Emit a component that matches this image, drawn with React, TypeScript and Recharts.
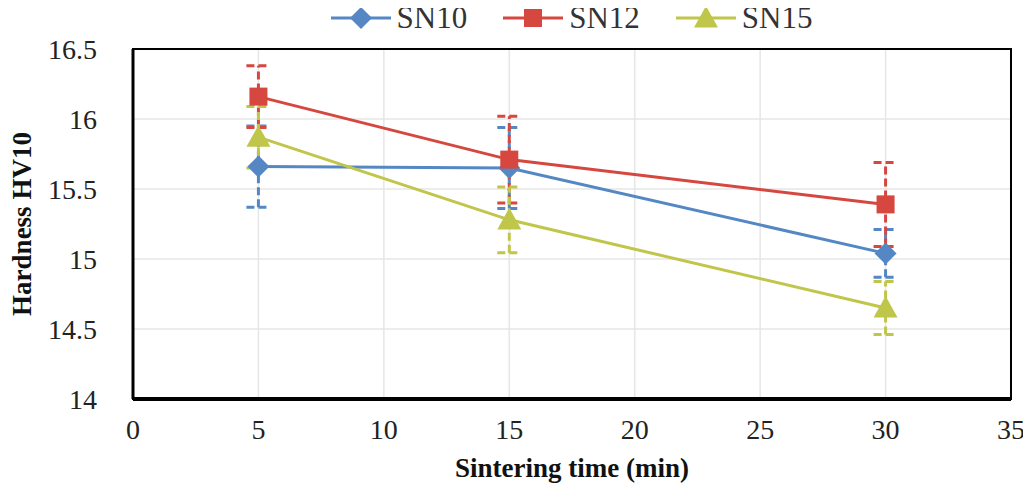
import React from 'react';
import { ComposedChart, Line, XAxis, YAxis, CartesianGrid, ErrorBar, ReferenceArea } from 'recharts';

// sintering time (min)
const times = [5, 15, 30];
const sn10 = [15.66, 15.65, 15.04];
const sn10Err = [0.29, 0.29, 0.17];
const sn12 = [16.16, 15.71, 15.39];
const sn12Err = [0.22, 0.31, 0.3];
const sn15 = [15.87, 15.28, 14.65];
const sn15Err = [0.22, 0.235, 0.19];

const xTicks = [0, 5, 10, 15, 20, 25, 30, 35];
const yTicks = [14, 14.5, 15, 15.5, 16, 16.5];

const BLUE = '#5487c4';
const RED = '#d5473f';
const YELLOW = '#bfc64a';
const FONT = "Times New Roman, Times, Tinos, Nimbus Roman, Liberation Serif, DejaVu Serif, serif";

const data = times.map((t, i) => ({
    t,
    sn10: sn10[i],
    sn10Err: sn10Err[i],
    sn12: sn12[i],
    sn12Err: sn12Err[i],
    sn15: sn15[i],
    sn15Err: sn15Err[i],
}));

const series = [
    { key: 'sn10', name: 'SN10', color: BLUE, shape: 'diamond' },
    { key: 'sn12', name: 'SN12', color: RED, shape: 'square' },
    { key: 'sn15', name: 'SN15', color: YELLOW, shape: 'triangle' },
];

// marker shapes like the excel ones
const Marker = ({ shape, cx, cy, color }: { shape: string; cx: number; cy: number; color: string }) => {
    if (shape === 'diamond') {
        const r = 11;
        return <polygon points={`${cx},${cy - r} ${cx + r},${cy} ${cx},${cy + r} ${cx - r},${cy}`} fill={color} />;
    }
    if (shape === 'square') {
        const r = 9;
        return <rect x={cx - r} y={cy - r} width={r * 2} height={r * 2} fill={color} />;
    }
    const r = 12;
    return <polygon points={`${cx},${cy - r} ${cx + r},${cy + r * 0.8} ${cx - r},${cy + r * 0.8}`} fill={color} />;
};

const makeDot = (shape: string, color: string) => (props: any) => {
    const { cx, cy, index } = props;
    return (
        <g key={`${shape}-${index}`}>
            <Marker shape={shape} cx={cx} cy={cy} color={color} />
        </g>
    );
};

const LegendRow = () => (
    <div
        style={{
            position: 'absolute',
            top: 0,
            left: 0,
            width: 1031,
            display: 'flex',
            justifyContent: 'center',
            paddingLeft: 110,
            boxSizing: 'border-box',
            gap: 34,
            fontFamily: FONT,
            fontSize: 31,
            color: '#333',
            lineHeight: '36px',
        }}
    >
        {series.map((s) => (
            <div key={s.key} style={{ display: 'flex', alignItems: 'center' }}>
                <svg width={64} height={30}>
                    <line x1={2} y1={15} x2={62} y2={15} stroke={s.color} strokeWidth={3} />
                    <Marker shape={s.shape} cx={32} cy={15} color={s.color} />
                </svg>
                <span style={{ marginLeft: 4 }}>{s.name}</span>
            </div>
        ))}
    </div>
);

export default function App() {
    return (
        <div style={{ position: 'relative', width: 1031, height: 497, margin: -8, background: '#fff' }}>
            <ComposedChart
                width={1031}
                height={497}
                data={data}
                margin={{ top: 49, right: 20, bottom: 36, left: 63 }}
                style={{ position: 'absolute', top: 0, left: 0 }}
            >
                <CartesianGrid stroke="#e6e6e6" strokeWidth={1.5} />
                <XAxis
                    dataKey="t"
                    type="number"
                    domain={[0, 35]}
                    ticks={xTicks}
                    tickLine={false}
                    axisLine={{ stroke: '#000', strokeWidth: 4 }}
                    tick={{ fill: '#222', fontSize: 28, fontFamily: FONT }}
                    tickMargin={14}
                    height={62}
                    label={{
                        value: 'Sintering time (min)',
                        position: 'insideBottom',
                        offset: -16,
                        style: { fill: '#111', fontSize: 27, fontWeight: 'bold', fontFamily: FONT },
                    }}
                />
                <YAxis
                    type="number"
                    domain={[14, 16.5]}
                    ticks={yTicks}
                    tickLine={false}
                    axisLine={{ stroke: '#000', strokeWidth: 3 }}
                    tick={{ fill: '#222', fontSize: 28, fontFamily: FONT }}
                    tickMargin={30}
                    width={70}
                    label={{
                        value: 'Hardness HV10',
                        angle: -90,
                        position: 'insideLeft',
                        offset: -42,
                        style: { textAnchor: 'middle', fill: '#111', fontSize: 27, fontWeight: 'bold', fontFamily: FONT },
                    }}
                />
                <ReferenceArea x1={0} x2={35} y1={14} y2={16.5} fill="none" stroke="#000" strokeWidth={2} ifOverflow="visible" />
                {series.map((s) => (
                    <Line
                        key={s.key}
                        dataKey={s.key}
                        name={s.name}
                        type="linear"
                        stroke={s.color}
                        strokeWidth={3}
                        dot={makeDot(s.shape, s.color)}
                        activeDot={false}
                        isAnimationActive={false}
                    >
                        <ErrorBar
                            dataKey={`${s.key}Err`}
                            direction="y"
                            width={12}
                            stroke={s.color}
                            strokeWidth={3}
                            strokeDasharray="8 4"
                        />
                    </Line>
                ))}
            </ComposedChart>
            <LegendRow />
        </div>
    );
}
